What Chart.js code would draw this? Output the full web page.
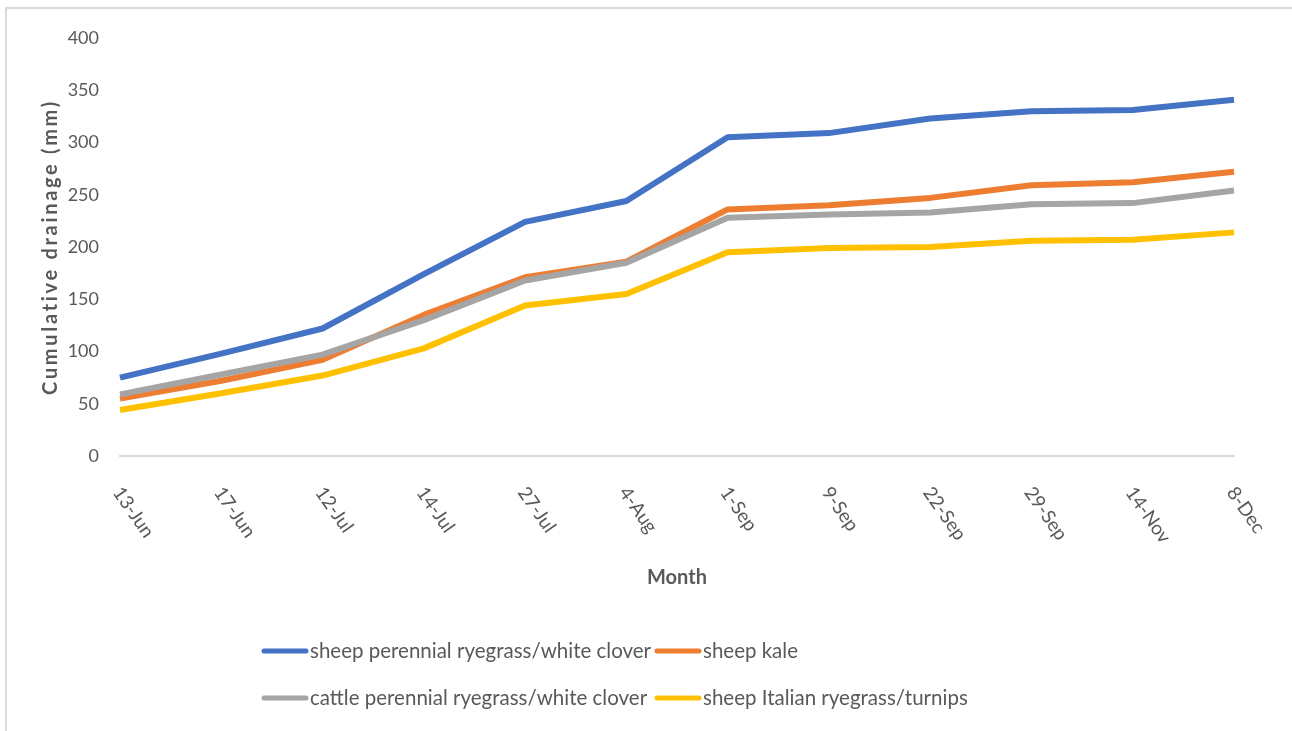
<!DOCTYPE html>
<html>
<head>
<meta charset="utf-8">
<title>Cumulative drainage</title>
<script src="https://cdn.jsdelivr.net/npm/chart.js@4.4.1/dist/chart.umd.min.js"></script>
<style>
  html, body { margin: 0; padding: 0; background: #ffffff; }
  #wrap { width: 1292px; height: 731px; position: relative; }
  canvas { display: block; }
</style>
</head>
<body>
<div id="wrap"><canvas id="drainage" width="1292" height="731"></canvas></div>
<script>
// Sampling dates (category axis)
const dates = ['13-Jun', '17-Jun', '12-Jul', '14-Jul', '27-Jul', '4-Aug', '1-Sep', '9-Sep', '22-Sep', '29-Sep', '14-Nov', '8-Dec'];

// Cumulative drainage (mm) per treatment
const sheepPerennial  = [75, 98, 122, 174, 224, 244, 305, 309, 323, 330, 331, 341];
const sheepKale       = [55, 72, 92, 135, 171, 186, 236, 240, 247, 259, 262, 272];
const cattlePerennial = [59, 78, 97, 130, 168, 185, 228, 231, 233, 241, 242, 254];
const sheepItalian    = [44, 60, 77, 103, 144, 155, 195, 199, 200, 206, 207, 214];

const seriesNames = [
  'sheep perennial ryegrass/white clover',
  'sheep kale',
  'cattle perennial ryegrass/white clover',
  'sheep Italian ryegrass/turnips'
];
const seriesColors = ['#4472C4', '#ED7D31', '#A5A5A5', '#FFC000'];

// Value axis tick labels
const yTicks = [0, 50, 100, 150, 200, 250, 300, 350, 400];

const TEXT = '#595959';
const FONT = 'Lato, "Open Sans", sans-serif';

// Light frame along the top and left edges of the chart box
const framePlugin = {
  id: 'frame',
  beforeDraw(chart) {
    const ctx = chart.ctx;
    ctx.save();
    ctx.strokeStyle = '#d9d9d9';
    ctx.lineWidth = 2;
    ctx.beginPath();
    ctx.moveTo(1292, 8);
    ctx.lineTo(6, 8);
    ctx.lineTo(6, 731);
    ctx.stroke();
    ctx.restore();
  }
};

// Date labels, rotated clockwise and hanging from each category tick
const dateLabelPlugin = {
  id: 'dateLabels',
  afterDraw(chart) {
    const ctx = chart.ctx;
    const x = chart.scales.x;
    ctx.save();
    ctx.fillStyle = TEXT;
    ctx.font = '19px ' + FONT;
    ctx.textAlign = 'left';
    ctx.textBaseline = 'middle';
    dates.forEach((label, i) => {
      const px = x.getPixelForValue(i);
      ctx.save();
      ctx.translate(px - 3, x.top + 33);
      ctx.rotate(55 * Math.PI / 180);
      ctx.fillText(label, 0, 0);
      ctx.restore();
    });
    ctx.restore();
  }
};

// Vertical axis title with expanded character spacing
const yTitlePlugin = {
  id: 'yTitle',
  afterDraw(chart) {
    const ctx = chart.ctx;
    const area = chart.chartArea;
    ctx.save();
    ctx.fillStyle = TEXT;
    ctx.font = 'bold 20px ' + FONT;
    if ('letterSpacing' in ctx) ctx.letterSpacing = '2.7px';
    ctx.textAlign = 'center';
    ctx.textBaseline = 'middle';
    ctx.translate(51, (area.top + area.bottom) / 2);
    ctx.rotate(-Math.PI / 2);
    ctx.fillText('Cumulative drainage (mm)', 0, 0);
    ctx.restore();
  }
};

// Two-column legend below the axis title
const legendPlugin = {
  id: 'gridLegend',
  afterDraw(chart) {
    const ctx = chart.ctx;
    const cols = [262, 655];
    const rows = [651, 698];
    ctx.save();
    ctx.font = '20.5px ' + FONT;
    ctx.textAlign = 'left';
    ctx.textBaseline = 'middle';
    chart.data.datasets.forEach((ds, i) => {
      const lx = cols[i % 2];
      const ly = rows[Math.floor(i / 2)];
      ctx.strokeStyle = ds.borderColor;
      ctx.lineWidth = 5;
      ctx.lineCap = 'round';
      ctx.beginPath();
      ctx.moveTo(lx + 2, ly);
      ctx.lineTo(lx + 44, ly);
      ctx.stroke();
      ctx.fillStyle = TEXT;
      ctx.fillText(ds.label, lx + 48, ly);
    });
    ctx.restore();
  }
};

const seriesData = [sheepPerennial, sheepKale, cattlePerennial, sheepItalian];

new Chart(document.getElementById('drainage'), {
  type: 'line',
  data: {
    labels: dates,
    datasets: seriesData.map((values, i) => ({
      label: seriesNames[i],
      data: values,
      borderColor: seriesColors[i],
      backgroundColor: seriesColors[i],
      borderWidth: 6,
      borderJoinStyle: 'round',
      borderCapStyle: 'butt',
      pointRadius: 0,
      pointHoverRadius: 0,
      tension: 0,
      fill: false,
      order: seriesData.length - i
    }))
  },
  options: {
    responsive: false,
    animation: false,
    events: [],
    layout: { padding: { top: 38, right: 58, bottom: 0, left: 0 } },
    plugins: {
      legend: { display: false },
      tooltip: { enabled: false },
      title: { display: false }
    },
    scales: {
      x: {
        type: 'category',
        offset: false,
        grid: { display: false, drawTicks: false },
        border: { display: true, color: '#d9d9d9', width: 2 },
        ticks: { display: false },
        title: {
          display: true,
          text: 'Month',
          color: TEXT,
          font: { family: FONT, size: 20, weight: 'bold' },
          padding: { top: 0, bottom: 141 }
        },
        afterFit(scale) { scale.height = 275; }
      },
      y: {
        min: 0,
        max: 400,
        grid: { display: false, drawTicks: false },
        border: { display: false },
        ticks: {
          color: TEXT,
          padding: 21,
          font: { family: FONT, size: 18 }
        },
        afterBuildTicks(scale) { scale.ticks = yTicks.map(v => ({ value: v })); },
        afterFit(scale) { scale.width = 120; }
      }
    }
  },
  plugins: [framePlugin, dateLabelPlugin, yTitlePlugin, legendPlugin]
});
</script>
</body>
</html>
